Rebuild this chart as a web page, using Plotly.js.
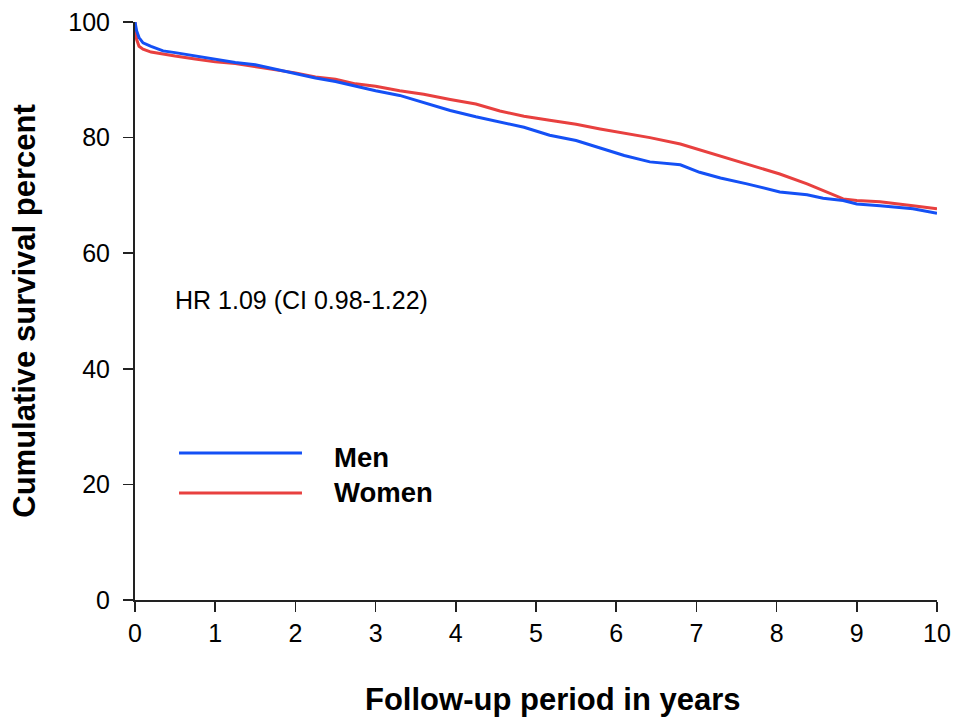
<!DOCTYPE html>
<html>
<head>
<meta charset="utf-8">
<script src="https://cdn.plot.ly/plotly-3.0.1.min.js"></script>
<style>body{margin:0;background:#fff}#chart{width:957px;height:718px}</style>
</head>
<body>
<div id="chart"></div>
<script>
const years = [0, 0.02, 0.05, 0.1, 0.2, 0.35, 0.5, 0.75, 1, 1.25, 1.5, 1.8, 2, 2.25, 2.5, 2.75, 3, 3.3, 3.6, 3.93, 4.25, 4.55, 4.85, 5.17, 5.5, 5.8, 6.1, 6.42, 6.8, 7.04, 7.3, 7.63, 8.04, 8.38, 8.58, 8.83, 9.0, 9.29, 9.7, 10];
const menSurvival = [100, 98.5, 97.3, 96.4, 95.8, 95.0, 94.7, 94.1, 93.5, 93.0, 92.6, 91.7, 91.1, 90.3, 89.7, 88.9, 88.1, 87.3, 86.1, 84.7, 83.6, 82.7, 81.8, 80.4, 79.5, 78.2, 76.9, 75.8, 75.3, 74.0, 73.0, 72.0, 70.6, 70.1, 69.5, 69.1, 68.5, 68.2, 67.7, 66.9];
const womenSurvival = [100, 97.0, 95.8, 95.3, 94.8, 94.4, 94.1, 93.6, 93.1, 92.8, 92.3, 91.7, 91.2, 90.5, 90.1, 89.3, 88.9, 88.1, 87.5, 86.6, 85.8, 84.6, 83.7, 83.0, 82.3, 81.5, 80.8, 80.0, 78.9, 77.9, 76.8, 75.5, 73.7, 72.0, 70.8, 69.4, 69.1, 68.9, 68.2, 67.7];
const seriesNames = ["Men", "Women"];
const seriesColors = ["#1450f5", "#e8403f"];
const xTicks = [0,1,2,3,4,5,6,7,8,9,10];
const yTicks = [0,20,40,60,80,100];
const hrText = "HR 1.09 (CI 0.98-1.22)";
const xTitle = "Follow-up period in years";
const yTitle = "Cumulative survival percent";

const F = "Liberation Sans, Arial, Helvetica, sans-serif";
const traces = [
  {x: years, y: womenSurvival, mode: "lines", name: seriesNames[1], line: {color: seriesColors[1], width: 3}, showlegend: false},
  {x: years, y: menSurvival, mode: "lines", name: seriesNames[0], line: {color: seriesColors[0], width: 3}, showlegend: false}
];
const layout = {
  width: 957, height: 718,
  margin: {l: 135, r: 20, t: 22, b: 118},
  paper_bgcolor: "#fff", plot_bgcolor: "#fff",
  font: {family: F, color: "#000"},
  xaxis: {
    range: [0, 10], tickvals: xTicks, ticktext: xTicks.map(String),
    showgrid: false, zeroline: false, showline: true, linecolor: "#222", linewidth: 2,
    ticks: "outside", ticklen: 10, tickwidth: 1.5, tickcolor: "#222",
    tickfont: {size: 25, family: F}
  },
  yaxis: {
    range: [0, 100], tickvals: yTicks, ticktext: yTicks.map(String),
    showgrid: false, zeroline: false, showline: true, linecolor: "#222", linewidth: 2,
    ticks: "outside", ticklen: 10, tickwidth: 1.5, tickcolor: "#222",
    tickfont: {size: 25, family: F}, ticklabelstandoff: 8,
    title: {text: "<b>" + yTitle + "</b>", font: {size: 31, family: F}, standoff: 23}
  },
  shapes: [
    {type: "line", xref: "paper", yref: "paper", x0: 0.0549, x1: 0.2082, y0: 0.2543, y1: 0.2543, line: {color: seriesColors[0], width: 3}},
    {type: "line", xref: "paper", yref: "paper", x0: 0.0549, x1: 0.2082, y0: 0.1851, y1: 0.1851, line: {color: seriesColors[1], width: 3}}
  ],
  annotations: [
    {xref: "paper", yref: "paper", x: 0.2457, y: 0.2474, text: "<b>" + seriesNames[0] + "</b>", showarrow: false, xanchor: "left", yanchor: "middle", font: {size: 27.5, family: F}},
    {xref: "paper", yref: "paper", x: 0.2457, y: 0.1868, text: "<b>" + seriesNames[1] + "</b>", showarrow: false, xanchor: "left", yanchor: "middle", font: {size: 27.5, family: F}},
    {xref: "paper", yref: "paper", x: 0.0474, y: 0.519, text: hrText, showarrow: false, xanchor: "left", yanchor: "middle", font: {size: 25, family: F}},
    {xref: "paper", yref: "paper", x: 0.521, y: -0.172, text: "<b>" + xTitle + "</b>", showarrow: false, xanchor: "center", yanchor: "middle", font: {size: 31, family: F}}
  ]
};
Plotly.newPlot("chart", traces, layout, {displayModeBar: false, staticPlot: true});
</script>
</body>
</html>
